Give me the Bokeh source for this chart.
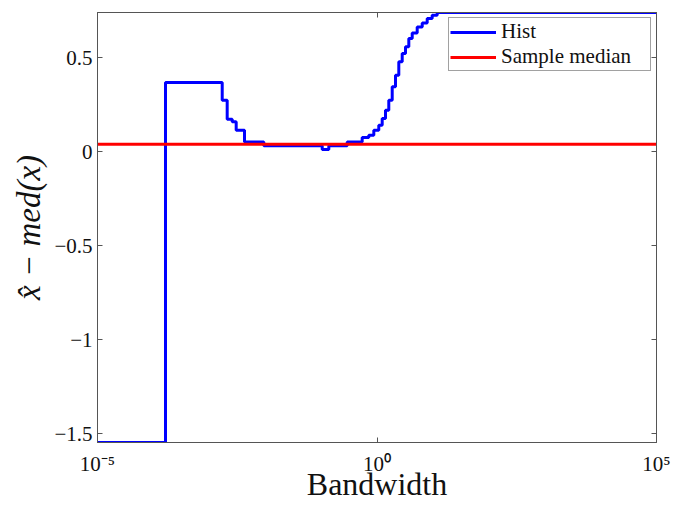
from bokeh.plotting import figure
from bokeh.models import (FixedTicker, CustomJSTickFormatter, LinearAxis, LogAxis,
                          Range1d, Legend, LegendItem)
from bokeh.embed import file_html
from bokeh.resources import INLINE

# ---- data ----
hist_log10_bw = [-5.0, -3.784, -2.769, -2.680, -2.590, -2.519, -2.370, -2.025,
                 -0.980, -0.862, -0.533, -0.265, -0.147, -0.057, 0.032, 0.093,
                 0.152, 0.211, 0.272, 0.331, 0.390, 0.451, 0.510, 0.569, 0.630,
                 0.719, 0.809, 0.898, 0.987, 1.077, 5.0]
hist_err = [-1.546, 0.369, 0.275, 0.174, 0.160, 0.115, 0.053, 0.032,
            0.013, 0.032, 0.053, 0.076, 0.089, 0.115, 0.142, 0.178,
            0.222, 0.275, 0.346, 0.408, 0.479, 0.523, 0.559, 0.603, 0.633,
            0.665, 0.686, 0.709, 0.727, 0.741, 0.741]
median_err = 0.041
x_limits = [1e-5, 1e5]
y_limits = [-1.546, 0.7415]
x_ticks = [1e-5, 1.0, 1e5]
y_ticks = [-1.5, -1.0, -0.5, 0.0, 0.5]

hist_bw = [10 ** e for e in hist_log10_bw]

SERIF = "Liberation Serif"
AXIS_COL = "#555555"

p = figure(width=673, height=505, x_axis_type="log",
           x_range=Range1d(*x_limits), y_range=Range1d(*y_limits),
           output_backend="svg", toolbar_location=None,
           min_border_left=97, min_border_right=17,
           min_border_top=12, min_border_bottom=63)
p.background_fill_color = "white"
p.border_fill_color = "white"
p.outline_line_color = AXIS_COL
p.outline_line_width = 1
p.grid.visible = False

r_hist = p.step(hist_bw, hist_err, mode="after", line_color="#0000FF", line_width=3)
r_med = p.line(x_limits, [median_err, median_err], line_color="#FF0000", line_width=3)

x_fmt = CustomJSTickFormatter(code="""
const e = Math.round(Math.log10(tick));
const sup = {'-':'\u207B','0':'\u2070','1':'\u00B9','2':'\u00B2','3':'\u00B3','4':'\u2074',
             '5':'\u2075','6':'\u2076','7':'\u2077','8':'\u2078','9':'\u2079'};
return '10' + String(e).split('').map(c => sup[c]).join('');
""")
y_fmt = CustomJSTickFormatter(code="""
return tick < 0 ? '\u2212' + String(Math.abs(tick)) : String(tick);
""")
blank_fmt = CustomJSTickFormatter(code="return '';")

def style_axis(ax, show_labels):
    ax.axis_line_color = AXIS_COL
    ax.major_tick_line_color = AXIS_COL
    ax.major_tick_in = 5
    ax.major_tick_out = 0
    ax.minor_tick_line_color = None
    if show_labels:
        ax.major_label_text_font = SERIF
        ax.major_label_text_font_size = "21px"
        ax.major_label_text_color = "#111111"
    else:
        ax.major_label_text_font_size = "1px"
        ax.major_label_standoff = 0

xa = p.xaxis[0]
xa.ticker = FixedTicker(ticks=x_ticks)
xa.formatter = x_fmt
style_axis(xa, True)
xa.major_label_standoff = 9
xa.axis_label = "Bandwidth"
xa.axis_label_text_font = SERIF
xa.axis_label_text_font_style = "normal"
xa.axis_label_text_font_size = "32px"
xa.axis_label_text_color = "#111111"
xa.axis_label_standoff = -13

ya = p.yaxis[0]
ya.ticker = FixedTicker(ticks=y_ticks)
ya.formatter = y_fmt
style_axis(ya, True)
ya.major_label_standoff = 5
ya.axis_label = "x\u0302 \u2212 med(x)"
ya.axis_label_text_font = SERIF
ya.axis_label_text_font_style = "italic"
ya.axis_label_text_font_size = "33px"
ya.axis_label_text_color = "#111111"
ya.axis_label_standoff = 4

top = LogAxis(ticker=FixedTicker(ticks=x_ticks), formatter=blank_fmt)
style_axis(top, False)
p.add_layout(top, "above")
right = LinearAxis(ticker=FixedTicker(ticks=y_ticks), formatter=blank_fmt)
style_axis(right, False)
p.add_layout(right, "right")

legend = Legend(items=[LegendItem(label="Hist", renderers=[r_hist]),
                       LegendItem(label="Sample median", renderers=[r_med])],
                location="top_right")
legend.margin = 5
legend.padding = 1
legend.spacing = 0
legend.label_height = 20
legend.label_width = 148
legend.glyph_width = 46
legend.glyph_height = 20
legend.label_standoff = 5
legend.label_text_font = SERIF
legend.label_text_font_size = "21px"
legend.label_text_color = "#111111"
legend.border_line_color = "#444444"
legend.border_line_width = 1
legend.background_fill_color = "white"
legend.background_fill_alpha = 1.0
p.add_layout(legend)

open("out.html", "w").write(file_html(p, INLINE))
